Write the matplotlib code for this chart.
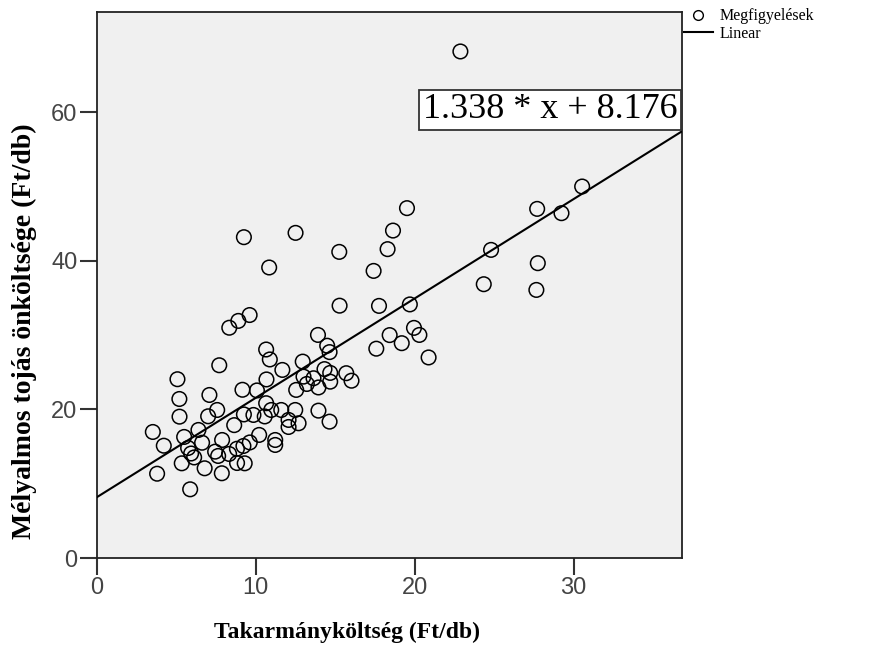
import numpy as np
import matplotlib
matplotlib.use("Agg")
import matplotlib.pyplot as plt
from matplotlib.lines import Line2D

# Takarmányköltség (Ft/db) vs Mélyalmos tojás önköltsége (Ft/db)
takarmany = [22.88, 30.54, 19.52, 18.64, 18.30, 27.71, 29.24, 24.81, 27.75, 27.66,
             24.35, 12.51, 9.26, 15.26, 10.85, 17.42, 15.28, 17.76, 19.70, 19.96,
             20.30, 19.19, 20.88, 18.43, 17.59, 13.92, 14.50, 14.65, 12.96, 9.62,
             8.91, 8.34, 10.66, 10.89, 7.71, 11.68, 14.33, 14.69, 15.70, 16.03,
             13.01, 12.55, 13.22, 13.95, 14.69, 13.64, 10.68, 5.08, 5.20, 5.21,
             7.09, 7.58, 7.01, 9.17, 10.08, 8.65, 9.26, 9.86, 10.57, 10.66,
             10.98, 11.61, 12.49, 12.07, 12.07, 12.70, 13.95, 14.65, 11.23, 11.23,
             3.53, 4.22, 5.50, 6.40, 6.63, 5.75, 5.94, 5.35, 6.13, 7.89,
             7.45, 7.64, 8.33, 8.82, 9.23, 9.63, 10.22, 8.83, 9.31, 6.79,
             7.87, 3.80, 5.88]
onkoltseg = [68.19, 50.01, 47.10, 44.08, 41.58, 47.00, 46.42, 41.48, 39.69, 36.09,
             36.86, 43.77, 43.19, 41.21, 39.11, 38.65, 33.97, 33.94, 34.14, 30.98,
             30.03, 28.92, 27.00, 30.01, 28.18, 30.03, 28.58, 27.72, 26.44, 32.71,
             31.92, 31.00, 28.07, 26.73, 25.95, 25.32, 25.43, 24.92, 24.88, 23.87,
             24.42, 22.63, 23.43, 22.96, 23.74, 24.20, 24.04, 24.07, 21.41, 19.03,
             21.95, 19.93, 19.08, 22.65, 22.56, 17.89, 19.33, 19.26, 19.06, 20.84,
             19.93, 19.93, 19.93, 18.59, 17.64, 18.14, 19.84, 18.36, 15.89, 15.22,
             16.97, 15.12, 16.30, 17.24, 15.52, 14.81, 14.07, 12.75, 13.54, 15.89,
             14.32, 13.74, 14.01, 14.71, 15.08, 15.56, 16.57, 12.79, 12.75, 12.08,
             11.41, 11.35, 9.25]

slope = 1.338
intercept = 8.176
x_ticks = [0, 10, 20, 30]
y_ticks = [0, 20, 40, 60]
x_max = 36.85
y_max = 73.5

fig = plt.figure(figsize=(8.84, 6.64), dpi=100)
ax = fig.add_axes([0.1094, 0.1596, 0.6626, 0.8223])
ax.set_facecolor("#f0f0f0")

ax.scatter(takarmany, onkoltseg, s=10.5 ** 2, facecolors="none",
           edgecolors="black", linewidths=1.1, zorder=3)

xs = np.array([0, x_max])
ax.plot(xs, slope * xs + intercept, color="black", lw=1.5, zorder=4)

ax.set_xlim(0, x_max)
ax.set_ylim(0, y_max)
ax.set_xticks(x_ticks)
ax.set_yticks(y_ticks)
ax.tick_params(direction="out", length=12, width=1.5, color="#333333",
               labelsize=17, labelcolor="#444444", pad=2)
for lab in ax.get_xticklabels() + ax.get_yticklabels():
    lab.set_family("Liberation Sans")
for sp in ax.spines.values():
    sp.set_linewidth(1.3)
    sp.set_color("#222222")

# equation box at the right end of the line
ax.annotate("1.338 * x + 8.176", xy=(x_max, slope * x_max + intercept),
            xytext=(-3.5, 3.5), textcoords="offset points",
            ha="right", va="bottom", fontsize=26, family="Liberation Serif",
            bbox=dict(boxstyle="square,pad=0.1", fc="white", ec="#333333", lw=1.3),
            zorder=5, annotation_clip=False)

fig.text(347 / 884, 1 - 632 / 664, "Takarmányköltség (Ft/db)", ha="center",
         va="center", fontsize=17, fontweight="bold", family="Liberation Serif")
fig.text(24 / 884, 1 - 331 / 664, "Mélyalmos tojás önköltsége (Ft/db)",
         rotation=90, ha="center", va="center", fontsize=20,
         fontweight="bold", family="Liberation Serif")

handles = [Line2D([], [], ls="none", marker="o", mfc="none", mec="black",
                  ms=7, mew=1.0),
           Line2D([], [], color="black", lw=1.5)]
ax.legend(handles, ["Megfigyelések", "Linear"], loc="upper left",
          bbox_to_anchor=(1.0, 1.01), frameon=False,
          prop={"family": "Liberation Serif", "size": 11.5},
          handlelength=1.8, handletextpad=0.4, labelspacing=0.1,
          borderaxespad=0.0, borderpad=0.1)

fig.savefig("out.png", dpi=100)
